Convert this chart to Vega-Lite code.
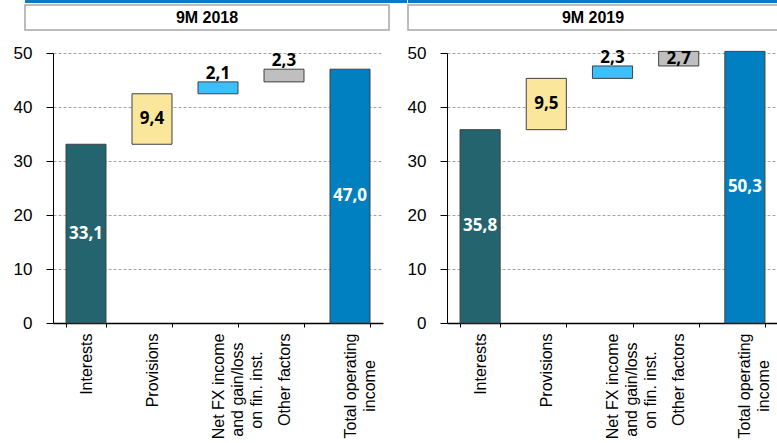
{
  "$schema": "https://vega.github.io/schema/vega-lite/v6.json",
  "padding": {"left": 13, "top": 0, "right": 0, "bottom": 0},
  "background": "white",
  "config": {"view": {"stroke": null}, "font": "Liberation Sans"},
  "datasets": {
    "wf": [
      {"year": "9M 2018", "cat": "Interests", "start": 0, "end": 33.1, "label": "33,1"},
      {"year": "9M 2018", "cat": "Provisions", "start": 33.1, "end": 42.45, "label": "9,4"},
      {"year": "9M 2018", "cat": "Net FX income|and gain/loss|on fin. inst.", "start": 42.45, "end": 44.65, "label": "2,1"},
      {"year": "9M 2018", "cat": "Other factors", "start": 44.65, "end": 47.0, "label": "2,3"},
      {"year": "9M 2018", "cat": "Total operating|income", "start": 0, "end": 47.0, "label": "47,0"},
      {"year": "9M 2019", "cat": "Interests", "start": 0, "end": 35.8, "label": "35,8"},
      {"year": "9M 2019", "cat": "Provisions", "start": 35.8, "end": 45.3, "label": "9,5"},
      {"year": "9M 2019", "cat": "Net FX income|and gain/loss|on fin. inst.", "start": 45.3, "end": 47.6, "label": "2,3"},
      {"year": "9M 2019", "cat": "Other factors", "start": 47.6, "end": 50.3, "label": "2,7"},
      {"year": "9M 2019", "cat": "Total operating|income", "start": 0, "end": 50.3, "label": "50,3"}
    ]
  },
  "spacing": 0,
  "hconcat": [
    {
      "spacing": 13,
      "vconcat": [
        {
          "spacing": 1,
          "vconcat": [
            {
              "data": {"values": [{"k": "a"}]},
              "width": 382, "height": 3,
              "view": {"fill": "#0B78BF", "stroke": null},
              "mark": {"type": "text", "fontSize": 1},
              "encoding": {"text": {"value": ""}}
            },
            {
              "data": {"values": [{"t": "9M 2018"}]},
              "width": 364, "height": 25,
              "view": {"stroke": "#A6A6A6", "strokeWidth": 1.5, "fill": "white"},
              "mark": {"type": "text", "fontWeight": "bold", "fontSize": 16, "font": "Liberation Sans", "color": "black"},
              "encoding": {"text": {"field": "t"}}
            }
          ]
        },
        {
          "bounds": "flush",
          "spacing": 0,
          "hconcat": [
            {
              "data": {"values": [{"k": "a"}]},
              "width": 28, "height": 1,
              "mark": {"type": "text", "fontSize": 1},
              "encoding": {"text": {"value": ""}}
            },
            {
              "width": 330, "height": 270,
              "data": {"name": "wf"},
              "transform": [
                {"filter": "datum.year === '9M 2018'"},
                {"calculate": "(datum.start + datum.end) / 2", "as": "mid"}
              ],
              "encoding": {
                "x": {
                  "field": "cat", "type": "nominal",
                  "sort": ["Interests", "Provisions", "Net FX income|and gain/loss|on fin. inst.", "Other factors", "Total operating|income"],
                  "scale": {"paddingInner": 0.394, "paddingOuter": 0.197},
                  "axis": {"title": null, "labelExpr": "datum.label === 'Total operating|income' ? ['Total operating', 'income\u00a0\u00a0\u00a0\u00a0\u00a0\u00a0\u200b'] : datum.label === 'Net FX income|and gain/loss|on fin. inst.' ? ['Net FX income', 'and gain/loss\u00a0\u00a0\u200b', 'on fin. inst.\u00a0\u00a0\u00a0\u00a0\u200b'] : datum.label", "labelAngle": -90, "labelAlign": "right", "labelBaseline": "middle", "labelFontSize": 16, "labelLineHeight": 19, "labelPadding": 6, "tickBand": "extent", "tickSize": 4, "tickColor": "black", "domainColor": "black", "domainWidth": 1.5, "labelColor": "black", "labelFont": "Liberation Sans", "grid": false}
                }
              },
              "layer": [
                {
                  "mark": {"type": "bar", "stroke": "#404040", "strokeWidth": 1},
                  "encoding": {
                    "y": {"field": "start", "type": "quantitative", "scale": {"domain": [0, 50]}, "axis": {"title": null, "values": [0, 10, 20, 30, 40, 50], "grid": true, "gridDash": [3, 2], "gridColor": "#A6A6A6", "domainColor": "black", "tickColor": "black", "tickSize": 7, "labelPadding": 14, "labelFontSize": 17, "labelColor": "black", "labelFont": "Liberation Sans"}},
                    "y2": {"field": "end"},
                    "color": {"field": "cat", "type": "nominal", "legend": null, "scale": {"domain": ["Interests", "Provisions", "Net FX income|and gain/loss|on fin. inst.", "Other factors", "Total operating|income"], "range": ["#23646F", "#FAE79B", "#3DBFFA", "#BFBFBF", "#0080C0"]}}
                  }
                },
                {
                  "transform": [{"filter": "datum.end - datum.start >= 5 || datum.end > 50"}],
                  "mark": {"type": "text", "font": "Open Sans", "fontWeight": "bold", "fontSize": 17, "baseline": "middle"},
                  "encoding": {
                    "y": {"field": "mid", "type": "quantitative"},
                    "text": {"field": "label"},
                    "color": {"condition": {"test": "datum.cat === 'Interests' || datum.cat === 'Total operating|income'", "value": "white"}, "value": "black"}
                  }
                },
                {
                  "transform": [{"filter": "datum.end - datum.start < 5 && datum.end <= 50"}],
                  "mark": {"type": "text", "font": "Open Sans", "fontWeight": "bold", "fontSize": 17, "baseline": "alphabetic", "dy": -3, "color": "black"},
                  "encoding": {
                    "y": {"field": "end", "type": "quantitative"},
                    "text": {"field": "label"}
                  }
                }
              ]
            }
          ]
        }
      ]
    },
    {
      "spacing": 13,
      "vconcat": [
        {
          "spacing": 1,
          "vconcat": [
            {
              "data": {"values": [{"k": "a"}]},
              "width": 371, "height": 3,
              "view": {"fill": "#0B78BF", "stroke": null},
              "mark": {"type": "text", "fontSize": 1},
              "encoding": {"text": {"value": ""}}
            },
            {
              "data": {"values": [{"t": "9M 2019"}]},
              "width": 370, "height": 25,
              "view": {"stroke": "#A6A6A6", "strokeWidth": 1.5, "fill": "white"},
              "mark": {"type": "text", "fontWeight": "bold", "fontSize": 16, "font": "Liberation Sans", "color": "black"},
              "encoding": {"text": {"field": "t"}}
            }
          ]
        },
        {
          "bounds": "flush",
          "spacing": 0,
          "hconcat": [
            {
              "data": {"values": [{"k": "a"}]},
              "width": 39, "height": 1,
              "mark": {"type": "text", "fontSize": 1},
              "encoding": {"text": {"value": ""}}
            },
            {
              "width": 331, "height": 270,
              "data": {"name": "wf"},
              "transform": [
                {"filter": "datum.year === '9M 2019'"},
                {"calculate": "(datum.start + datum.end) / 2", "as": "mid"}
              ],
              "encoding": {
                "x": {
                  "field": "cat", "type": "nominal",
                  "sort": ["Interests", "Provisions", "Net FX income|and gain/loss|on fin. inst.", "Other factors", "Total operating|income"],
                  "scale": {"paddingInner": 0.394, "paddingOuter": 0.197},
                  "axis": {"title": null, "labelExpr": "datum.label === 'Total operating|income' ? ['Total operating', 'income\u00a0\u00a0\u00a0\u00a0\u00a0\u00a0\u200b'] : datum.label === 'Net FX income|and gain/loss|on fin. inst.' ? ['Net FX income', 'and gain/loss\u00a0\u00a0\u200b', 'on fin. inst.\u00a0\u00a0\u00a0\u00a0\u200b'] : datum.label", "labelAngle": -90, "labelAlign": "right", "labelBaseline": "middle", "labelFontSize": 16, "labelLineHeight": 19, "labelPadding": 6, "tickBand": "extent", "tickSize": 4, "tickColor": "black", "domainColor": "black", "domainWidth": 1.5, "labelColor": "black", "labelFont": "Liberation Sans", "grid": false}
                }
              },
              "layer": [
                {
                  "mark": {"type": "bar", "stroke": "#404040", "strokeWidth": 1},
                  "encoding": {
                    "y": {"field": "start", "type": "quantitative", "scale": {"domain": [0, 50]}, "axis": {"title": null, "values": [0, 10, 20, 30, 40, 50], "grid": true, "gridDash": [3, 2], "gridColor": "#A6A6A6", "domainColor": "black", "tickColor": "black", "tickSize": 7, "labelPadding": 14, "labelFontSize": 17, "labelColor": "black", "labelFont": "Liberation Sans"}},
                    "y2": {"field": "end"},
                    "color": {"field": "cat", "type": "nominal", "legend": null, "scale": {"domain": ["Interests", "Provisions", "Net FX income|and gain/loss|on fin. inst.", "Other factors", "Total operating|income"], "range": ["#23646F", "#FAE79B", "#3DBFFA", "#BFBFBF", "#0080C0"]}}
                  }
                },
                {
                  "transform": [{"filter": "datum.end - datum.start >= 5 || datum.end > 50"}],
                  "mark": {"type": "text", "font": "Open Sans", "fontWeight": "bold", "fontSize": 17, "baseline": "middle"},
                  "encoding": {
                    "y": {"field": "mid", "type": "quantitative"},
                    "text": {"field": "label"},
                    "color": {"condition": {"test": "datum.cat === 'Interests' || datum.cat === 'Total operating|income'", "value": "white"}, "value": "black"}
                  }
                },
                {
                  "transform": [{"filter": "datum.end - datum.start < 5 && datum.end <= 50"}],
                  "mark": {"type": "text", "font": "Open Sans", "fontWeight": "bold", "fontSize": 17, "baseline": "alphabetic", "dy": -3, "color": "black"},
                  "encoding": {
                    "y": {"field": "end", "type": "quantitative"},
                    "text": {"field": "label"}
                  }
                }
              ]
            }
          ]
        }
      ]
    }
  ]
}
